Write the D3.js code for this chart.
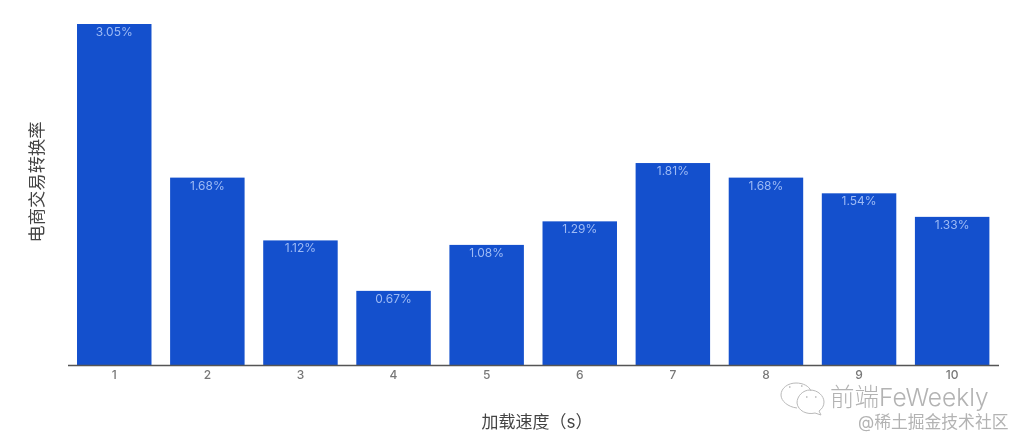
<!DOCTYPE html>
<meta charset="utf-8">
<title>电商交易转换率</title>
<body>
<script src="https://cdn.jsdelivr.net/npm/d3@7"></script>
<style>
html, body {
    margin: 0;
    background: #fff;
}

svg {
    display: block;
    filter: blur(0.45px);
}

text {
    font-family: Inter, "Noto Sans CJK SC", sans-serif;
}
</style>

<script>
var speeds = ["1", "2", "3", "4", "5", "6", "7", "8", "9", "10"];
var rates = [3.05, 1.68, 1.12, 0.67, 1.08, 1.29, 1.81, 1.68, 1.54, 1.33];
var xTitle = "加载速度（s）";
var yTitle = "电商交易转换率";
var markName = "前端FeWeekly";
var markSite = "@稀土掘金技术社区";

var width = 1025,
    height = 445,
    baseline = 366,
    barTop = 24;

var svg = d3.select("body").append("svg")
    .attr("width", width)
    .attr("height", height);

var x = d3.scaleBand()
    .domain(speeds)
    .range([67.7, 998.7])
    .paddingInner(0.2)
    .paddingOuter(0.1);

var y = d3.scaleLinear()
    .domain([0, 3.05])
    .range([baseline, barTop]);

var bars = svg.append("g")
    .selectAll("g")
    .data(speeds)
    .enter().append("g");

bars.append("rect")
    .attr("x", function(d) { return x(d); })
    .attr("y", function(d, i) { return y(rates[i]); })
    .attr("width", x.bandwidth())
    .attr("height", function(d, i) { return baseline - y(rates[i]); })
    .attr("fill", "#1450cd");

bars.append("text")
    .attr("x", function(d) { return x(d) + x.bandwidth() / 2; })
    .attr("y", function(d, i) { return y(rates[i]) + 12; })
    .attr("text-anchor", "middle")
    .attr("font-size", 12)
    .attr("fill", "#9dbaf5")
    .text(function(d, i) { return rates[i].toFixed(2) + "%"; });

var axis = svg.append("g")
    .attr("transform", "translate(0,365)")
    .call(d3.axisBottom(x).tickSize(0).tickPadding(5));

axis.select(".domain")
    .attr("d", "M68,0.5H999")
    .attr("stroke", "#555")
    .attr("stroke-width", 1.4);

axis.selectAll("text")
    .attr("font-size", 12)
    .attr("font-weight", 500)
    .attr("fill", "#777");

svg.append("text")
    .attr("x", 537)
    .attr("y", 428)
    .attr("text-anchor", "middle")
    .attr("font-size", 17)
    .attr("fill", "#444")
    .text(xTitle);

svg.append("text")
    .attr("transform", "translate(43,182) rotate(-90)")
    .attr("text-anchor", "middle")
    .attr("font-size", 17.3)
    .attr("fill", "#444")
    .text(yTitle);

// watermark: two speech bubbles, then the account name
var mark = svg.append("g")
    .attr("fill", "none")
    .attr("stroke", "#b9b9b9")
    .attr("stroke-width", 1);

mark.append("path")
    .attr("d", "M797,408C788,407 781,401 781,395C781,388 788,383 796,383C803,383 809,386 811,391");
mark.append("path")
    .attr("d", "M810,390C818,390 824,396 824,402C824,406 822,409 819,411L821,415L815,413C807,415 798,411 797,403C797,396 803,390 810,390Z");
mark.append("path")
    .attr("stroke-width", 1.6)
    .attr("d", "M789,387h1.5M801,386h1.5M806,397h1.5M815,397h1.5");

svg.append("text")
    .attr("x", 830)
    .attr("y", 406)
    .attr("font-size", 24.5)
    .attr("font-weight", 300)
    .attr("fill", "#b3b3b3")
    .text(markName);

svg.append("text")
    .attr("x", 858)
    .attr("y", 428)
    .attr("font-size", 16.8)
    .attr("fill", "#b3b3b3")
    .text(markSite);
</script>
